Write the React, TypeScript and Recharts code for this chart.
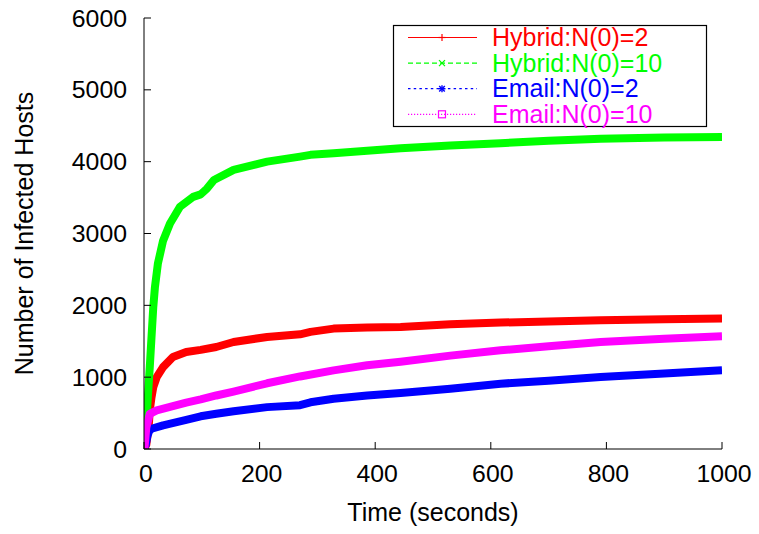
import React from 'react';
import { LineChart, Line, XAxis, YAxis, Legend } from 'recharts';

const FONT = '"Liberation Sans", Arial, Helvetica, sans-serif';

// Time (seconds) and infected hosts
const hybrid2Time = [0, 4, 8, 10, 13, 16, 22, 33, 50, 73, 98, 125, 155, 213, 270, 288, 328, 386, 444, 530, 617, 700, 790, 900, 1000];
const hybrid2Hosts = [2, 60, 300, 540, 720, 860, 1000, 1140, 1280, 1350, 1380, 1420, 1490, 1560, 1597, 1630, 1676, 1690, 1700, 1736, 1760, 1775, 1792, 1805, 1815];

const hybrid10Time = [0, 2, 4, 7, 10, 13, 16, 19, 24, 33, 45, 62, 85, 98, 109, 121, 155, 213, 270, 288, 328, 386, 444, 530, 617, 700, 790, 900, 1000];
const hybrid10Hosts = [10, 150, 380, 770, 1140, 1560, 1970, 2260, 2580, 2900, 3140, 3370, 3510, 3545, 3625, 3745, 3885, 4000, 4070, 4095, 4117, 4153, 4187, 4225, 4257, 4290, 4320, 4335, 4345];

const email2Time = [0, 3, 6, 9, 13, 33, 73, 98, 125, 155, 213, 270, 288, 328, 386, 444, 530, 617, 700, 790, 900, 1000];
const email2Hosts = [2, 60, 180, 250, 282, 330, 405, 455, 490, 525, 583, 610, 650, 700, 746, 780, 840, 909, 950, 1002, 1050, 1095];

const email10Time = [0, 1, 4, 10, 22, 45, 73, 98, 125, 155, 213, 270, 328, 386, 444, 530, 617, 700, 790, 900, 1000];
const email10Hosts = [10, 25, 300, 490, 537, 585, 645, 690, 745, 800, 915, 1010, 1095, 1165, 1215, 1300, 1374, 1430, 1490, 1535, 1570];

const xTicks = [0, 200, 400, 600, 800, 1000];
const yTicks = [0, 1000, 2000, 3000, 4000, 5000, 6000];

const seriesNames = ['Hybrid:N(0)=2', 'Hybrid:N(0)=10', 'Email:N(0)=2', 'Email:N(0)=10'];
const seriesColors = ['#ff0000', '#00ff00', '#0000ff', '#ff00ff'];
const legendDash = ['', '5,3', '2.5,3.2', '1.2,1.8'];
const legendMarker = ['plus', 'cross', 'star', 'square'];

const build = (ts: number[], vs: number[]) => ts.map((t, i) => ({ t, v: vs[i] }));
const seriesData = [
  build(hybrid2Time, hybrid2Hosts),
  build(hybrid10Time, hybrid10Hosts),
  build(email2Time, email2Hosts),
  build(email10Time, email10Hosts),
];

const TICK_LEN = 7;
const BOTTOM_MARGIN = 16;
const LEFT_MARGIN = 17;
const TICK_FONT = 23;
const TICK_STRETCH = 1.08;

const BottomTick = (props: any) => {
  const { x, y, payload } = props;
  const ay = y - BOTTOM_MARGIN;
  return (
    <g>
      <line x1={x} x2={x} y1={ay} y2={ay - TICK_LEN} stroke="#000" strokeWidth={1} />
      <text
        transform={`translate(${x + 2}, ${y}) scale(${TICK_STRETCH}, 1)`}
        x={0}
        y={0}
        dy="0.72em"
        textAnchor="middle"
        fill="#000"
        fontSize={TICK_FONT}
        fontFamily={FONT}
      >
        {payload.value}
      </text>
    </g>
  );
};

const LeftTick = (props: any) => {
  const { x, y, payload } = props;
  const ax = x + LEFT_MARGIN;
  return (
    <g>
      <line x1={ax} x2={ax + TICK_LEN} y1={y} y2={y} stroke="#000" strokeWidth={1} />
      <text
        transform={`translate(${x}, ${y}) scale(${TICK_STRETCH}, 1)`}
        x={0}
        y={0}
        dy="0.37em"
        textAnchor="end"
        fill="#000"
        fontSize={TICK_FONT}
        fontFamily={FONT}
      >
        {payload.value}
      </text>
    </g>
  );
};

const TopTick = (props: any) => {
  const { x, y } = props;
  return <line x1={x} x2={x} y1={y} y2={y + TICK_LEN} stroke="#000" strokeWidth={1} />;
};

const RightTick = (props: any) => {
  const { x, y } = props;
  return <line x1={x} x2={x - TICK_LEN} y1={y} y2={y} stroke="#000" strokeWidth={1} />;
};

const Marker = ({ kind, cx, cy, color }: { kind: string; cx: number; cy: number; color: string }) => {
  const s = 3.5;
  if (kind === 'plus')
    return (
      <g stroke={color} strokeWidth={1.2}>
        <line x1={cx - s} x2={cx + s} y1={cy} y2={cy} />
        <line x1={cx} x2={cx} y1={cy - s} y2={cy + s} />
      </g>
    );
  if (kind === 'cross')
    return (
      <g stroke={color} strokeWidth={1.2}>
        <line x1={cx - 3} x2={cx + 3} y1={cy - 3} y2={cy + 3} />
        <line x1={cx - 3} x2={cx + 3} y1={cy + 3} y2={cy - 3} />
      </g>
    );
  if (kind === 'star')
    return (
      <g stroke={color} strokeWidth={1.4}>
        <line x1={cx - s} x2={cx + s} y1={cy} y2={cy} />
        <line x1={cx} x2={cx} y1={cy - s} y2={cy + s} />
        <line x1={cx - 2.8} x2={cx + 2.8} y1={cy - 2.8} y2={cy + 2.8} />
        <line x1={cx - 2.8} x2={cx + 2.8} y1={cy + 2.8} y2={cy - 2.8} />
      </g>
    );
  return <rect x={cx - 3.5} y={cy - 3.5} width={7} height={7} fill="none" stroke={color} strokeWidth={1.2} />;
};

const LegendBox = () => (
  <svg width={314} height={102} style={{ display: 'block', overflow: 'visible' }}>
    <rect x={0.5} y={0.5} width={313} height={101} fill="#fff" stroke="#000" strokeWidth={1.2} />
    {seriesNames.map((name, i) => {
      const cy = 12.5 + i * 25.6;
      return (
        <g key={name}>
          <line x1={15} x2={84} y1={cy} y2={cy} stroke={seriesColors[i]} strokeWidth={1.2} strokeDasharray={legendDash[i] || undefined} />
          <Marker kind={legendMarker[i]} cx={49} cy={cy} color={seriesColors[i]} />
          <text x={99} y={cy + 8.5} fill={seriesColors[i]} fontSize={25} fontFamily={FONT}>
            {name}
          </text>
        </g>
      );
    })}
  </svg>
);

export default function App() {
  return (
    <div style={{ position: 'absolute', left: 0, top: 0, width: 759, height: 534, background: '#fff' }}>
      <LineChart width={759} height={534} margin={{ top: 18, right: 37, bottom: 0, left: 0 }}>
        <XAxis
          xAxisId={0}
          type="number"
          dataKey="t"
          domain={[0, 1000]}
          ticks={xTicks}
          allowDataOverflow
          height={85}
          tickSize={0}
          tickMargin={BOTTOM_MARGIN}
          tick={<BottomTick />}
          axisLine={{ stroke: '#000', strokeWidth: 1 }}
          tickLine={false}
          label={{
            content: (p: any) => {
              const vb = p.viewBox;
              return (
                <text x={vb.x + vb.width / 2} y={vb.y + 72} textAnchor="middle" fill="#000" fontSize={25} fontFamily={FONT}>
                  Time (seconds)
                </text>
              );
            },
          }}
        />
        <XAxis
          xAxisId="top"
          orientation="top"
          type="number"
          dataKey="t"
          domain={[0, 1000]}
          ticks={xTicks}
          allowDataOverflow
          height={0}
          tickSize={0}
          tickMargin={0}
          tick={<TopTick />}
          axisLine={{ stroke: '#000', strokeWidth: 1 }}
          tickLine={false}
        />
        <YAxis
          yAxisId={0}
          type="number"
          domain={[0, 6000]}
          ticks={yTicks}
          allowDataOverflow
          width={144}
          tickSize={0}
          tickMargin={LEFT_MARGIN}
          tick={<LeftTick />}
          axisLine={{ stroke: '#000', strokeWidth: 1 }}
          tickLine={false}
          label={{
            content: (p: any) => {
              const vb = p.viewBox;
              const cx = vb.x + 33;
              const cy = vb.y + vb.height / 2;
              return (
                <text x={cx} y={cy} transform={`rotate(-90, ${cx}, ${cy})`} textAnchor="middle" fill="#000" fontSize={25} fontFamily={FONT}>
                  Number of Infected Hosts
                </text>
              );
            },
          }}
        />
        <YAxis
          yAxisId="right"
          orientation="right"
          type="number"
          domain={[0, 6000]}
          ticks={yTicks}
          allowDataOverflow
          width={0}
          tickSize={0}
          tickMargin={0}
          tick={<RightTick />}
          axisLine={{ stroke: '#000', strokeWidth: 1 }}
          tickLine={false}
        />
        {seriesData.map((d, i) => (
          <Line
            key={seriesNames[i]}
            xAxisId={0}
            yAxisId={0}
            data={d}
            dataKey="v"
            name={seriesNames[i]}
            type="linear"
            stroke={seriesColors[i]}
            strokeWidth={8}
            strokeLinejoin="round"
            strokeLinecap="butt"
            dot={false}
            activeDot={false}
            isAnimationActive={false}
          />
        ))}
        <Legend
          layout="vertical"
          align="center"
          verticalAlign="middle"
          wrapperStyle={{ left: 393, top: 25, width: 314, height: 102 }}
          content={() => <LegendBox />}
        />
      </LineChart>
    </div>
  );
}
